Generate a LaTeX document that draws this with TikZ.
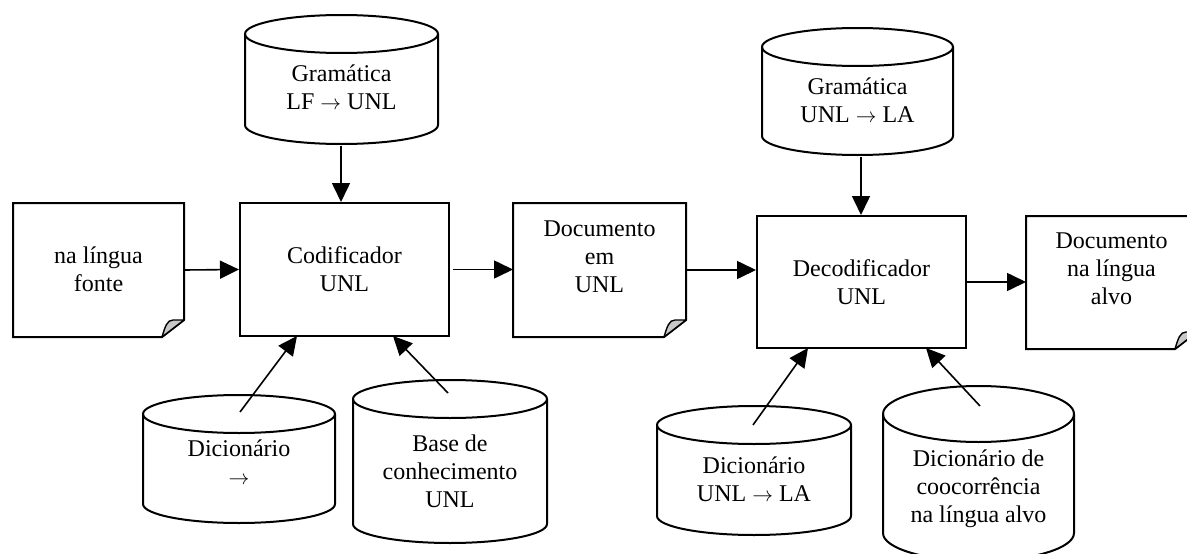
\documentclass[tikz,border=0pt]{standalone}
\usepackage{fontspec}
\setmainfont{Liberation Serif}
\usetikzlibrary{arrows.meta}
\definecolor{foldgray}{RGB}{200,200,200}
\newcommand\rarr{{\fontsize{20}{28}\selectfont$\rightarrow$}}
\tikzset{
  boxnode/.style={draw, line width=2pt, rectangle, inner sep=0pt, align=center, font=\fontsize{24}{28}\selectfont},
  docshape/.style={rectangle, inner sep=0pt, outer sep=0pt, draw=none},
  txt/.style={align=center, inner sep=0pt, anchor=base, font=\fontsize{24}{28}\selectfont},
  outline/.style={line width=2pt, line join=miter, fill=white},
  cylline/.style={line width=2pt, fill=white},
  fold/.style={line width=1.4pt, fill=foldgray, line join=round},
  arr/.style={line width=1.6pt, -{Triangle[length=19pt,width=18pt]}},
}
\newcommand\dbcyl[6]{%
  \pgfmathsetmacro\rxv{(#3-#2)/2}%
  \draw[cylline] (#2,#4+#6) -- (#2,#5-#6) arc[start angle=180,end angle=360,x radius=\rxv pt,y radius=#6pt] -- (#3,#4+#6) arc[start angle=0,end angle=180,x radius=\rxv pt,y radius=#6pt] -- cycle;
  \draw[cylline,fill=none] (#2,#4+#6) arc[start angle=180,end angle=360,x radius=\rxv pt,y radius=#6pt];
  \coordinate (#1) at ({(#2+#3)/2},{(#4+#5)/2});
}
\newcommand\docoutline[1]{%
  \draw[outline] (#1.north west) -- (#1.north east) -- ([yshift=17pt]#1.south east) -- ([xshift=-22pt]#1.south east) -- (#1.south west) -- cycle;
  \draw[fold] ([xshift=-22pt]#1.south east) .. controls ([xshift=-19pt,yshift=10pt]#1.south east) and ([xshift=-17pt,yshift=17pt]#1.south east) .. ([xshift=-11pt,yshift=17pt]#1.south east) -- ([yshift=17pt]#1.south east) -- cycle;
}
\begin{document}
\begin{tikzpicture}[x=1pt,y=-1pt]
\useasboundingbox (0,0) rectangle (1187,554);
\clip (0,0) rectangle (1187,554);

% cylinders
\dbcyl{g1}{245}{438}{15}{144}{19}
\dbcyl{g2}{762}{953}{28}{155}{19}
\dbcyl{d1}{143}{335}{395}{523}{19}
\dbcyl{kb}{353}{547}{380}{543}{19}
\dbcyl{d2}{657}{851}{406}{535}{19}
\dbcyl{d3}{883}{1074}{386}{561}{28}

% anchor=base is the baseline of the last line
\node[txt] (tg1) at (341.5,109) {Gramática\\LF \rarr{} UNL};
\node[txt] (tg2) at (857.5,122) {Gramática\\UNL \rarr{} LA};
\node[txt] (td1) at (239,484) {Dicionário\\\rarr};
\node[txt] (tkb) at (450,507) {Base de\\conhecimento\\UNL};
\node[txt] (td2) at (754,501) {Dicionário\\UNL \rarr{} LA};
\node[txt] (td3) at (978.5,522) {Dicionário de\\coocorrência\\na língua alvo};

% processing boxes
\node[boxnode, minimum width=209pt, minimum height=133pt] (cod) at (344.5,269.5) {Codificador\\UNL};
\node[boxnode, minimum width=209pt, minimum height=132pt] (dec) at (861.5,282) {Decodificador\\UNL};

% documents
\node[docshape, minimum width=171pt, minimum height=134pt] (src) at (98.5,270) {};
\node[docshape, minimum width=173pt, minimum height=134pt] (doc1) at (599.5,270) {};
\node[docshape, minimum width=171pt, minimum height=133pt] (doc2) at (1111.5,282.5) {};
\docoutline{src}
\docoutline{doc1}
\docoutline{doc2}
\node[txt] (tsrc) at (98.5,291) {na língua\\fonte};
\node[txt] (tdoc1) at (599.5,292) {Documento\\em\\UNL};
\node[txt] (tdoc2) at (1111.5,304) {Documento\\na língua\\alvo};

% arrow end points
\coordinate (g1out) at (341,146);
\coordinate (g2out) at (861,157);
\coordinate (d1out) at (240,412);
\coordinate (kbout) at (448,393);
\coordinate (d2out) at (753,425);
\coordinate (d3out) at (980,406);
\coordinate (codin1) at (297,336);
\coordinate (codin2) at (393,336);
\coordinate (decin1) at (808,348);
\coordinate (decin2) at (926,348);

% connectors
\draw[arr] (src.east) -- (cod.west);
\draw[arr, shorten <=3pt] (cod.east) -- (cod.east -| doc1.west);
\draw[arr] (doc1.east) -- (doc1.east -| dec.west);
\draw[arr] (dec.east) -- (dec.east -| doc2.west);
\draw[arr] (g1out) -- (g1out |- cod.north);
\draw[arr] (g2out) -- (g2out |- dec.north);
\draw[arr] (d1out) -- (codin1);
\draw[arr] (kbout) -- (codin2);
\draw[arr] (d2out) -- (decin1);
\draw[arr] (d3out) -- (decin2);
\end{tikzpicture}
\end{document}
